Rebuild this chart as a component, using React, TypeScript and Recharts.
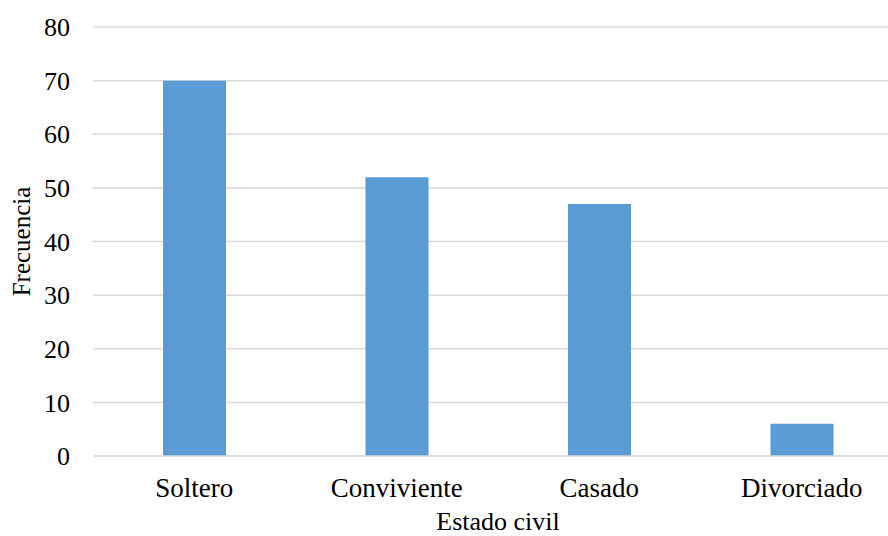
import React from 'react';
import { BarChart, Bar, XAxis, YAxis, CartesianGrid, Label } from 'recharts';

const categories = ['Soltero', 'Conviviente', 'Casado', 'Divorciado'];
const frecuencia = [70, 52, 47, 6];
const yTicks = [0, 10, 20, 30, 40, 50, 60, 70, 80];

const data = categories.map((c, i) => ({ name: c, value: frecuencia[i] }));

const FONT = 'Liberation Serif';

export default function App() {
  return (
    <div style={{ position: 'fixed', left: 0, top: 0, width: 888, height: 536, overflow: 'hidden', background: '#fff', fontFamily: FONT }}>
      <BarChart width={903} height={536} data={data} margin={{ top: 27, right: 0, left: 0, bottom: 0 }} style={{ fontFamily: FONT }}>
        <CartesianGrid vertical={false} stroke="#d9d9d9" strokeWidth={1.5} />
        <XAxis
          dataKey="name"
          height={80}
          tickSize={0}
          tickMargin={22}
          tickLine={false}
          axisLine={{ stroke: '#d9d9d9', strokeWidth: 1.5 }}
          tick={{ fill: '#000', fontSize: 27, fontFamily: FONT }}
          interval={0}
        >
          <Label value="Estado civil" position="insideBottom" offset={6} fill="#000" fontSize={26} fontFamily={FONT} />
        </XAxis>
        <YAxis
          width={93}
          domain={[0, 80]}
          ticks={yTicks}
          tickSize={0}
          tickMargin={23}
          tickLine={false}
          axisLine={false}
          tick={{ fill: '#000', fontSize: 26, fontFamily: FONT }}
        >
          <Label value="Frecuencia" angle={-90} position="insideLeft" offset={21} style={{ textAnchor: 'middle' }} fill="#000" fontSize={25} fontFamily={FONT} />
        </YAxis>
        <Bar dataKey="value" fill="#5B9BD5" barSize={63} isAnimationActive={false} />
      </BarChart>
    </div>
  );
}
